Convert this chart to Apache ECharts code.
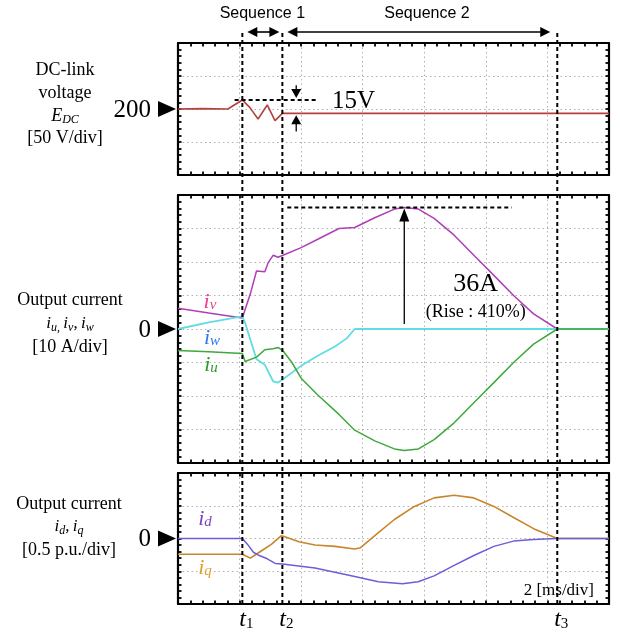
<!DOCTYPE html>
<html><head><meta charset="utf-8">
<script src="https://cdn.jsdelivr.net/npm/echarts@6/dist/echarts.min.js"></script>
<style>html,body{margin:0;padding:0;background:#fff}#c{width:620px;height:632px}</style>
</head><body><div id="c"></div>
<script>
// ---- data (time in ms) ----
const edcT = [0, 0.8, 1.62, 2.09, 2.33, 2.60, 2.90, 3.15, 3.39, 14];
const edcV = [200, 200.5, 200, 213.6, 202.5, 184.8, 206.1, 182.3, 193.4, 193.4];

const ivT = [0, 1.0, 2.09, 2.18, 2.35, 2.55, 2.82, 2.93, 3.09, 3.25, 3.41, 4.0, 4.54, 5.23, 5.74, 6.39, 7.03, 7.35, 7.81, 8.32, 8.97, 9.61, 10.26, 10.9, 11.55, 12.32, 14];
const ivV = [6.2, 4.8, 3.3, 5.8, 10.5, 17.3, 17.1, 19.8, 22, 21.4, 22, 24.3, 26.8, 30, 30.3, 33.2, 35.8, 36.3, 35.8, 33, 28, 22, 16, 10, 4.5, 0, 0];

const iwT = [0, 1.0, 2.09, 2.18, 2.55, 2.82, 3.09, 3.25, 3.41, 4.0, 4.54, 5.1, 5.48, 5.74, 14];
const iwV = [0, 2.0, 3.8, 1.8, -9, -10.7, -15.6, -16, -15, -11, -8, -5.2, -2.8, 0, 0];

const iuT = [0, 1.0, 2.09, 2.18, 2.55, 2.82, 3.09, 3.25, 3.41, 3.7, 4.0, 4.54, 5.23, 5.74, 6.39, 7.03, 7.35, 7.81, 8.32, 8.97, 9.61, 10.26, 10.9, 11.55, 12.32, 14];
const iuV = [-6.4, -6.8, -7.3, -9.7, -8.4, -6.2, -5.9, -5.5, -6.5, -10, -14.7, -19.7, -25.5, -30.2, -33.4, -35.8, -36.3, -35.8, -33, -28, -22, -16, -10, -4.5, 0, 0];

const idT = [0, 2.09, 2.26, 2.45, 2.64, 2.9, 3.16, 3.39, 4.45, 5.74, 6.51, 7.29, 7.8, 8.32, 8.97, 9.61, 10.26, 10.9, 11.55, 12.32, 14];
const idV = [0, 0, -0.09, -0.21, -0.26, -0.31, -0.38, -0.39, -0.45, -0.58, -0.66, -0.69, -0.66, -0.57, -0.41, -0.26, -0.12, -0.04, -0.015, 0, 0];

const iqT = [0, 2.09, 2.35, 2.64, 3.03, 3.35, 3.45, 3.93, 4.45, 5.1, 5.74, 5.93, 6.51, 7.03, 7.68, 8.32, 8.97, 9.61, 10.26, 10.9, 11.55, 12.32, 14];
const iqV = [-0.24, -0.24, -0.30, -0.21, -0.09, 0.04, 0.03, -0.05, -0.10, -0.12, -0.16, -0.14, 0.09, 0.29, 0.49, 0.62, 0.66, 0.62, 0.49, 0.32, 0.15, 0, 0];

const tMarks = [2.09, 3.39, 12.32];
const tNames = ['1', '2', '3'];

// ---- chart ----
const chart = echarts.init(document.getElementById('c'), null, {renderer: 'canvas'});
const SERIF = '"Liberation Serif", "Times New Roman", serif';
const SANS = '"Liberation Sans", Arial, sans-serif';
const pairs = (t, v) => t.map((x, i) => [x, v[i]]);

const grids = [
  {left: 178, top: 43, width: 431, height: 132},
  {left: 178, top: 195, width: 431, height: 268},
  {left: 178, top: 473, width: 431, height: 131}
];
const yRanges = [[100, 300, 50], [-40, 40, 10], [-1, 1, 0.5]];

function tick() {
  return {
    axisLine: {show: true, onZero: false, lineStyle: {color: '#000', width: 2.2}},
    axisTick: {show: true, inside: true, length: 3.5, lineStyle: {color: '#000', width: 1.8}},
    minorTick: {show: true, splitNumber: 5, length: 3.5, lineStyle: {color: '#000', width: 1.8}},
    axisLabel: {show: false}
  };
}
const split = {show: true, lineStyle: {color: '#b0b0b0', type: [1.5, 3], width: 1}};
const xAxis = [], yAxis = [];
grids.forEach((g, i) => {
  xAxis.push(Object.assign({type: 'value', gridIndex: i, position: 'bottom', min: 0, max: 14, interval: 2, splitLine: split}, tick()));
  xAxis.push(Object.assign({type: 'value', gridIndex: i, position: 'top', min: 0, max: 14, interval: 2, splitLine: {show: false}}, tick()));
  const r = yRanges[i];
  yAxis.push(Object.assign({type: 'value', gridIndex: i, position: 'left', min: r[0], max: r[1], interval: r[2], splitLine: split}, tick()));
  yAxis.push(Object.assign({type: 'value', gridIndex: i, position: 'right', min: r[0], max: r[1], interval: r[2], splitLine: {show: false}}, tick()));
});

function ser(t, v, gi, color, w) {
  return {type: 'line', xAxisIndex: gi * 2, yAxisIndex: gi * 2, data: pairs(t, v), showSymbol: false, symbol: 'none',
    lineStyle: {color: color, width: w || 1.5}, silent: true, animation: false, z: 3};
}

chart.setOption({
  animation: false,
  grid: grids,
  xAxis: xAxis,
  yAxis: yAxis,
  series: [
    ser(edcT, edcV, 0, '#b4413c', 1.6),
    ser(ivT, ivV, 1, '#ae3fb6', 1.5),
    ser(iwT, iwV, 1, '#5fdde3', 1.8),
    ser(iuT, iuV, 1, '#3fa83c', 1.5),
    ser(iqT, iqV, 2, '#c9852b', 1.6),
    ser(idT, idV, 2, '#6a5fd6', 1.5)
  ]
});

// ---- annotations ----
const P = (gi, t, v) => chart.convertToPixel({xAxisIndex: gi * 2, yAxisIndex: gi * 2}, [t, v]);
const G = [];
const txt = (x, y, text, font, size, opts) => G.push(Object.assign({
  type: 'text', x: x, y: y, z: 20,
  style: Object.assign({text: text, font: size + 'px ' + font, fill: '#000', align: 'center', verticalAlign: 'middle'}, opts || {})
}));
const richTxt = (x, y, text, rich, align) => G.push({
  type: 'text', x: x, y: y, z: 20,
  style: {text: text, rich: rich, align: align || 'center', verticalAlign: 'middle'}
});
const line = (x1, y1, x2, y2, w, dash) => G.push({type: 'line', z: 15, shape: {x1, y1, x2, y2},
  style: {stroke: '#000', lineWidth: w, lineDash: dash || null}});
const tri = (pts) => G.push({type: 'polygon', z: 16, shape: {points: pts}, style: {fill: '#000'}});
const arrowH = (xTip, y, dir, len, hw) => tri([[xTip, y], [xTip - dir * len, y - hw], [xTip - dir * len, y + hw]]);
const arrowV = (x, yTip, dir, len, hw) => tri([[x, yTip], [x - hw, yTip - dir * len], [x + hw, yTip - dir * len]]);

const tx = tMarks.map(t => P(0, t, 100)[0]);
const yTopLine = 32;
const yBottom = P(2, 0, -1)[1];
// t dashed verticals
tx.forEach(x => line(x, yTopLine + 1, x, yBottom, 2, [4, 3]));

// sequence arrows
txt((tx[0] + tx[1]) / 2, 14, 'Sequence 1', SANS, 16);
txt(427, 14, 'Sequence 2', SANS, 16);
line(tx[0] + 8, yTopLine, tx[1] - 6, yTopLine, 1.6);
arrowH(tx[0] + 5, yTopLine, -1, 10, 5);
arrowH(tx[1] - 3, yTopLine, 1, 10, 5);
line(tx[1] + 8, yTopLine, tx[2] - 10, yTopLine, 1.3);
arrowH(tx[1] + 5, yTopLine, -1, 10, 5);
arrowH(tx[2] - 7, yTopLine, 1, 10, 5);

// t labels
tx.forEach((x, i) => richTxt(x + 4, 620, '{t|t}{s|' + tNames[i] + '}', {
  t: {font: 'italic 24px ' + SERIF, fill: '#000', lineHeight: 24},
  s: {font: '15px ' + SERIF, fill: '#000', lineHeight: 12, verticalAlign: 'bottom', padding: [12, 0, 0, 0]}
}));

// left side labels
const lbl = (y, t) => txt(65, y, t, SERIF, 18);
lbl(70, 'DC-link');
lbl(93, 'voltage');
richTxt(65, 116, '{e|E}{s|DC}', {
  e: {font: 'italic 18px ' + SERIF, fill: '#000', lineHeight: 20},
  s: {font: 'italic 12px ' + SERIF, fill: '#000', lineHeight: 10, verticalAlign: 'bottom', padding: [10, 0, 0, 0]}
});
lbl(138, '[50 V/div]');

txt(70, 300, 'Output current', SERIF, 18);
const subRich = {
  i: {font: 'italic 17px ' + SERIF, fill: '#000', lineHeight: 20},
  n: {font: '17px ' + SERIF, fill: '#000', lineHeight: 20},
  s: {font: 'italic 12px ' + SERIF, fill: '#000', lineHeight: 10, verticalAlign: 'bottom', padding: [10, 0, 0, 0]}
};
richTxt(70, 324, '{i|i}{s|u,} {i|i}{s|v}{n|,} {i|i}{s|w}', subRich);
txt(70, 347, '[10 A/div]', SERIF, 18);

txt(69, 504, 'Output current', SERIF, 18);
richTxt(69, 527, '{i|i}{s|d}{n|,} {i|i}{s|q}', subRich);
txt(69, 550, '[0.5 p.u./div]', SERIF, 18);

// level markers
const marker = (gi, v, label) => {
  const y = P(gi, 0, v)[1];
  txt(151, y + 1, label, SERIF, 25, {align: 'right'});
  tri([[176, y], [158, y - 8], [158, y + 8]]);
};
marker(0, 200, '200');
marker(1, 0, '0');
marker(2, 0, '0');

// 15V annotation
{
  const yPk = P(0, 0, 213.6)[1];
  const yFin = P(0, 0, 193.4)[1];
  const x0 = P(0, 1.84, 0)[0], x1 = P(0, 4.51, 0)[0];
  line(x0, yPk, x1, yPk, 2, [4, 3]);
  const xa = P(0, 3.84, 0)[0];
  line(xa, P(0, 0, 236)[1], xa, yPk - 8, 1.3);
  arrowV(xa, yPk - 2, 1, 9, 5);
  line(xa, P(0, 0, 166)[1], xa, yFin + 8, 1.3);
  arrowV(xa, yFin + 2, -1, 9, 5);
  txt(P(0, 5.0, 0)[0], P(0, 0, 211)[1], '15V', SERIF, 25, {align: 'left'});
}

// 36A annotation
{
  const yPk = P(1, 0, 36.3)[1];
  line(P(1, 3.55, 0)[0], yPk, P(1, 10.84, 0)[0], yPk, 2, [4, 3]);
  const xa = P(1, 7.35, 0)[0];
  line(xa, P(1, 0, 1.5)[1], xa, yPk + 10, 1.3);
  arrowV(xa, yPk + 1, -1, 13, 5);
  txt(P(1, 9.67, 0)[0], P(1, 0, 13.4)[1], '36A', SERIF, 26);
  txt(P(1, 9.67, 0)[0], P(1, 0, 4.9)[1], '(Rise : 410%)', SERIF, 18);
}

// series labels
const sLbl = (x, y, m, s, col) => richTxt(x, y, '{m|' + m + '}{s|' + s + '}', {
  m: {font: 'italic 22px ' + SERIF, fill: col, lineHeight: 22},
  s: {font: 'italic 15px ' + SERIF, fill: col, lineHeight: 12, verticalAlign: 'bottom', padding: [10, 0, 0, 0]}
});
sLbl(210, 302, 'i', 'v', '#e8418e');
sLbl(212, 338, 'i', 'w', '#2b7be6');
sLbl(211, 365, 'i', 'u', '#2e9a2c');
sLbl(205, 519, 'i', 'd', '#7d42c4');
sLbl(205, 568, 'i', 'q', '#e0a12e');

txt(594, 591, '2 [ms/div]', SERIF, 17, {align: 'right'});

chart.setOption({graphic: G});
</script>
</body></html>
